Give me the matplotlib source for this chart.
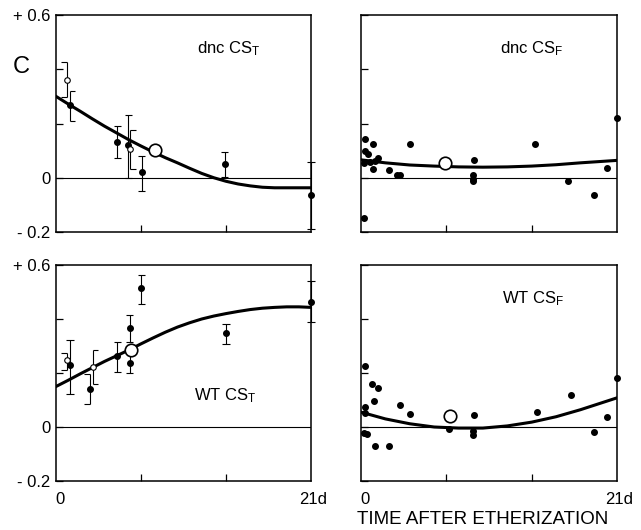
import numpy as np
import matplotlib
matplotlib.use('Agg')
import matplotlib.pyplot as plt
import matplotlib.transforms as mtransforms

plt.rcParams['font.family'] = ['Liberation Sans', 'DejaVu Sans']
plt.rcParams['mathtext.default'] = 'regular'

# ---- data (days after etherization, C) ----
# dnc CS_T
dncT_x = [1.15, 5.05, 5.96, 7.06, 13.9, 21.0]
dncT_y = [0.267, 0.131, 0.122, 0.021, 0.049, -0.065]
dncT_lo = [0.211, 0.074, 0.0, -0.049, 0.002, -0.188]
dncT_hi = [0.318, 0.189, 0.23, 0.08, 0.095, 0.058]
dncT_cap = ['right', 'full', 'full', 'full', 'full', 'full']
dncT_ox = [0.88, 6.1]
dncT_oy = [0.359, 0.107]
dncT_olo = [0.297, 0.033]
dncT_ohi = [0.426, 0.175]
dncT_ocap = ['left', 'right']
dncT_mean = (8.15, 0.104)
dncT_cx = [0, 1, 2, 3, 4, 5, 6, 7, 8, 9, 10, 11, 12, 13, 14, 15, 16, 17, 18, 19.5, 21]
dncT_cy = [0.30, 0.272, 0.245, 0.217, 0.19, 0.165, 0.14, 0.117, 0.095, 0.074, 0.055,
           0.035, 0.016, 0.0, -0.013, -0.023, -0.03, -0.035, -0.037, -0.037, -0.037]

# dnc CS_F
dncF_x = [0.36, 0.96, 0.30, 0.57, 0.27, 0.77, 1.18, 1.37, 0.98, 2.27, 2.95, 3.23, 3.99,
          0.22, 9.24, 9.19, 9.19, 9.19, 14.3, 17.0, 19.1, 20.2, 21.0]
dncF_y = [0.144, 0.123, 0.097, 0.088, 0.055, 0.058, 0.061, 0.074, 0.033, 0.027, 0.009, 0.009, 0.125,
          -0.147, 0.066, 0.009, -0.004, -0.012, 0.123, -0.013, -0.065, 0.037, 0.22]
dncF_mean = (6.92, 0.054)
dncF_cx = [0, 2, 4, 6, 8, 10, 12, 14, 16, 18, 21]
dncF_cy = [0.066, 0.055, 0.047, 0.043, 0.040, 0.039, 0.040, 0.043, 0.048, 0.055, 0.064]

# WT CS_T
wtT_x = [1.15, 2.79, 5.04, 6.08, 6.08, 7.04, 14.0, 21.0]
wtT_y = [0.228, 0.140, 0.262, 0.367, 0.237, 0.513, 0.348, 0.463]
wtT_lo = [0.121, 0.084, 0.204, 0.315, 0.20, 0.454, 0.309, 0.389]
wtT_hi = [0.324, 0.195, 0.316, 0.416, 0.284, 0.562, 0.383, 0.541]
wtT_cap = ['full', 'left', 'full', 'full', 'full', 'full', 'full', 'full']
wtT_ox = [0.9, 3.01]
wtT_oy = [0.247, 0.222]
wtT_olo = [0.21, 0.161]
wtT_ohi = [0.275, 0.284]
wtT_ocap = ['left', 'right']
wtT_mean = (6.16, 0.284)
wtT_cx = [0, 1, 2, 3, 4, 5, 6, 7, 8, 9, 10, 11, 12, 13, 14, 15, 16, 17, 18, 19, 20, 21]
wtT_cy = [0.15, 0.173, 0.197, 0.22, 0.243, 0.264, 0.285, 0.308, 0.33, 0.351, 0.37, 0.386,
          0.40, 0.411, 0.42, 0.428, 0.435, 0.44, 0.443, 0.445, 0.445, 0.443]

# WT CS_F
wtF_x = [0.3, 0.3, 0.3, 0.22, 0.52, 0.9, 1.37, 1.04, 1.18, 2.27, 3.17, 4.05,
         7.19, 9.24, 9.19, 9.19, 14.4, 17.2, 19.1, 20.2, 21.0]
wtF_y = [0.226, 0.074, 0.052, -0.022, -0.026, 0.161, 0.145, 0.095, -0.069, -0.069, 0.081, 0.05,
         -0.007, 0.046, -0.014, -0.029, 0.056, 0.117, -0.019, 0.037, 0.18]
wtF_mean = (7.33, 0.042)
wtF_cx = [0, 2, 4, 6, 8, 10, 12, 14, 16, 18, 21]
wtF_cy = [0.055, 0.03, 0.012, 0.0, -0.004, -0.004, 0.004, 0.018, 0.038, 0.064, 0.108]

fig = plt.figure(figsize=(6.41, 5.30), dpi=100)
W, H = 641.0, 530.0
ax_tl = fig.add_axes([56 / W, 1 - 232 / H, 255 / W, 217 / H])
ax_tr = fig.add_axes([361 / W, 1 - 232 / H, 256 / W, 217 / H])
ax_bl = fig.add_axes([56 / W, 1 - 481 / H, 255 / W, 216 / H])
ax_br = fig.add_axes([361 / W, 1 - 481 / H, 256 / W, 216 / H])


def err(ax, x, lo, hi, cap):
    for xi, l, h, c in zip(x, lo, hi, cap):
        ax.vlines(xi, l, h, color='k', lw=0.8, clip_on=False)
        if c == 'full':
            a, b = xi - 0.3, xi + 0.3
        elif c == 'left':
            a, b = xi - 0.45, xi
        else:
            a, b = xi, xi + 0.45
        ax.hlines([l, h], a, b, color='k', lw=0.8, clip_on=False)


def style(ax, left, bottom):
    ax.set_xlim(0, 21)
    ax.set_ylim(-0.2, 0.6)
    ax.axhline(0, color='k', lw=0.8)
    for s in ax.spines.values():
        s.set_linewidth(1.1)
    ax.set_xticks([7, 14])
    ax.set_xticklabels([])
    ax.set_yticks([-0.2, 0, 0.2, 0.4, 0.6])
    ax.tick_params(direction='in', length=5, width=0.9, pad=4, labelsize=12)
    if left:
        ax.set_yticklabels(['- 0.2', '0', '', '', '+ 0.6'])
    else:
        ax.set_yticklabels([])
    if bottom:
        tr = mtransforms.blended_transform_factory(ax.transData, ax.transAxes)
        ax.text(0.35, -0.05, '0', transform=tr, ha='center', va='top', fontsize=12)
        ax.text(21.2, -0.05, '21d', transform=tr, ha='center', va='top', fontsize=12)


style(ax_tl, True, False)
style(ax_tr, False, False)
style(ax_bl, True, True)
style(ax_br, False, True)

# top left: dnc CS_T
ax_tl.plot(dncT_cx, dncT_cy, color='k', lw=2.2, zorder=3)
err(ax_tl, dncT_x, dncT_lo, dncT_hi, dncT_cap)
err(ax_tl, dncT_ox, dncT_olo, dncT_ohi, dncT_ocap)
ax_tl.plot(dncT_x, dncT_y, 'o', color='k', ms=4, zorder=4, clip_on=False)
ax_tl.plot(dncT_ox, dncT_oy, 'o', mfc='white', mec='k', mew=0.8, ms=4, zorder=4)
ax_tl.plot(*dncT_mean, 'o', mfc='white', mec='k', mew=1.2, ms=9, zorder=4)
ax_tl.text(11.6, 0.46, r'dnc CS$_{T}$', fontsize=12)
ax_tl.text(-0.137, 0.76, 'C', transform=ax_tl.transAxes, fontsize=17, ha='center', va='center')

# top right: dnc CS_F
ax_tr.plot(dncF_cx, dncF_cy, color='k', lw=2.2, zorder=3)
ax_tr.plot(dncF_x, dncF_y, 'o', color='k', ms=4, zorder=4, clip_on=False)
ax_tr.plot(*dncF_mean, 'o', mfc='white', mec='k', mew=1.2, ms=9, zorder=4)
ax_tr.text(11.4, 0.46, r'dnc CS$_{F}$', fontsize=12)

# bottom left: WT CS_T
ax_bl.plot(wtT_cx, wtT_cy, color='k', lw=2.2, zorder=3)
err(ax_bl, wtT_x, wtT_lo, wtT_hi, wtT_cap)
err(ax_bl, wtT_ox, wtT_olo, wtT_ohi, wtT_ocap)
ax_bl.plot(wtT_x, wtT_y, 'o', color='k', ms=4, zorder=4, clip_on=False)
ax_bl.plot(wtT_ox, wtT_oy, 'o', mfc='white', mec='k', mew=0.8, ms=4, zorder=4)
ax_bl.plot(*wtT_mean, 'o', mfc='white', mec='k', mew=1.2, ms=9, zorder=4)
ax_bl.text(11.4, 0.1, r'WT CS$_{T}$', fontsize=12)

# bottom right: WT CS_F
ax_br.plot(wtF_cx, wtF_cy, color='k', lw=2.2, zorder=3)
ax_br.plot(wtF_x, wtF_y, 'o', color='k', ms=4, zorder=4, clip_on=False)
ax_br.plot(*wtF_mean, 'o', mfc='white', mec='k', mew=1.2, ms=9, zorder=4)
ax_br.text(11.6, 0.46, r'WT CS$_{F}$', fontsize=12)

fig.text(483 / W, 1 - 519 / H, 'TIME AFTER ETHERIZATION', ha='center', va='center', fontsize=13.5)

plt.savefig('out.png', dpi=100)
